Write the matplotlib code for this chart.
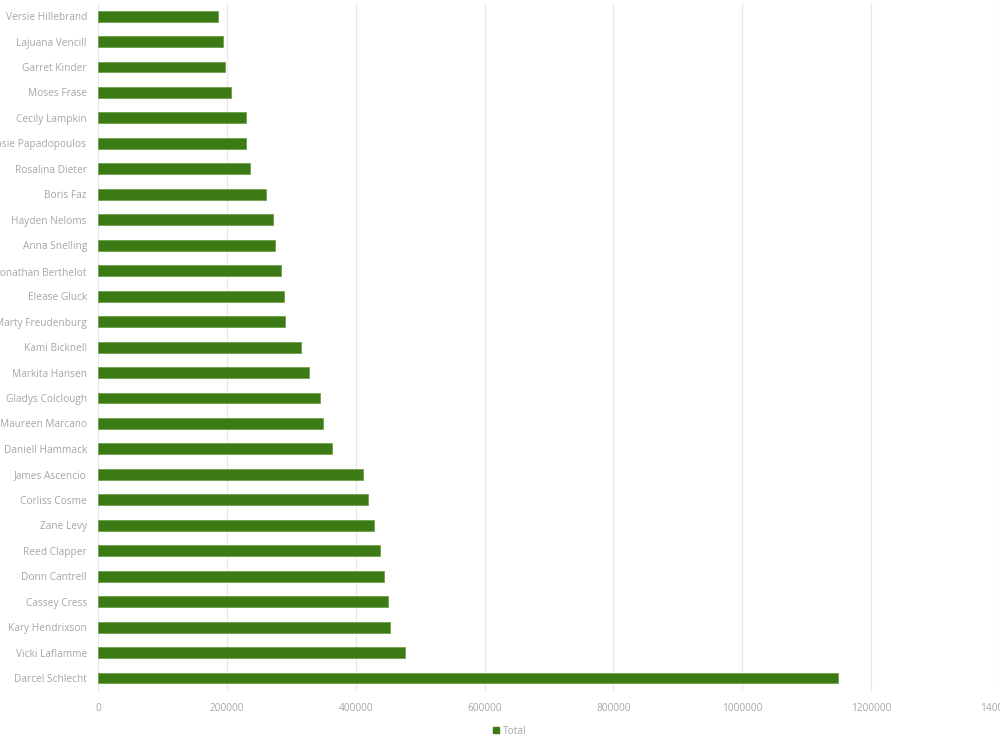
import matplotlib.pyplot as plt
from matplotlib.patches import Patch

# noms (du bas vers le haut, comme dans le graphique)
names = ["Darcel Schlecht", "Vicki Laflamme", "Kary Hendrixson", "Cassey Cress",
         "Donn Cantrell", "Reed Clapper", "Zane Levy", "Corliss Cosme",
         "James Ascencio", "Daniell Hammack", "Maureen Marcano", "Gladys Colclough",
         "Markita Hansen", "Kami Bicknell", "Marty Freudenburg", "Elease Gluck",
         "Jonathan Berthelot", "Anna Snelling", "Hayden Neloms", "Boris Faz",
         "Rosalina Dieter", "Josie Papadopoulos", "Cecily Lampkin", "Moses Frase",
         "Garret Kinder", "Lajuana Vencill", "Versie Hillebrand"]
totals = [1148600, 476700, 452500, 449900, 443200, 437500, 428300, 419000,
          411300, 363400, 348600, 343900, 327400, 315500, 289900, 288300,
          283700, 274900, 271800, 261500, 235200, 229700, 229700, 206500,
          197700, 194600, 186900]
xticks = [0, 200000, 400000, 600000, 800000, 1000000, 1200000, 1400000]

plt.rcParams['font.family'] = ['Open Sans', 'DejaVu Sans']
green = '#3b7a14'
grey_txt = '#a6a6a6'

fig = plt.figure(figsize=(10, 7.5), dpi=100)
ax = fig.add_axes([0.098, 0.079, 0.902, 0.9165])

ax.barh(names, totals, height=0.43, color=green, edgecolor='#6fa04a', linewidth=0.6, zorder=3)

ax.set_xlim(0, 1400000)
ax.set_ylim(-0.5, len(names) - 0.5)
ax.set_xticks(xticks)
ax.set_xticklabels([str(t) for t in xticks])
ax.grid(axis='x', color='#e8e8e8', linewidth=0.9, zorder=0)
ax.grid(axis='y', visible=False)
for s in ax.spines.values():
    s.set_visible(False)
ax.tick_params(axis='both', length=0, labelsize=7.3, labelcolor=grey_txt)
ax.tick_params(axis='y', pad=8)
ax.tick_params(axis='x', pad=9)

fig.legend(handles=[Patch(color=green, label='Total')], loc='center',
           bbox_to_anchor=(0.51, 0.025), frameon=False, fontsize=7.3,
           labelcolor=grey_txt, handlelength=0.6, handleheight=0.6, handletextpad=0.4)

fig.savefig('out.png')
